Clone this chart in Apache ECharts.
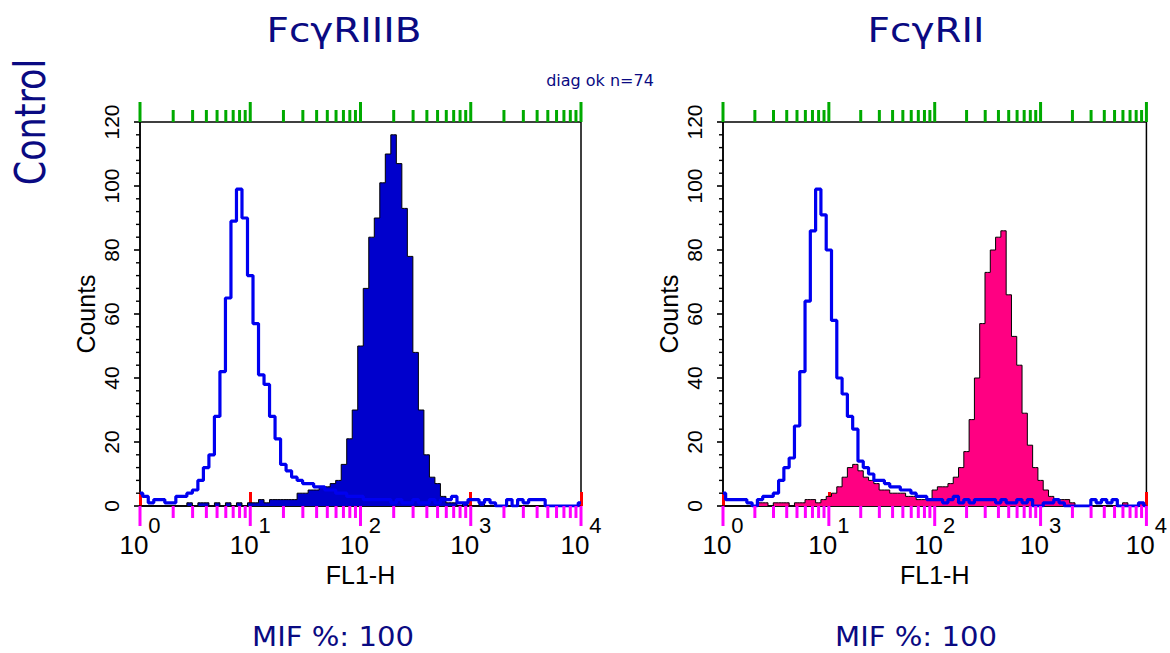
<!DOCTYPE html>
<html>
<head>
<meta charset="utf-8">
<script src="https://cdn.jsdelivr.net/npm/echarts@6/dist/echarts.min.js"></script>
<style>
html,body{margin:0;padding:0;background:#fff;}
#chart{width:1170px;height:653px;}
</style>
</head>
<body>
<div id="chart"></div>
<script>
const panelTitles = ['FcγRIIIB', 'FcγRII'];
const rowLabel = 'Control';
const mifLabels = ['MIF %: 100', 'MIF %: 100'];
const xAxisName = 'FL1-H';
const yAxisName = 'Counts';

const xRange = [1, 10000];
const xMajorTicks = [1, 10, 100, 1000, 10000];
const xMinorMultipliers = [2, 3, 4, 5, 6, 7, 8, 9];
const yRange = [0, 120];
const yInterval = 20;
const yMinorStep = 4;
const STEPS_PER_DECADE = 20;

const controlA = [
  4,3,1,2,2,1,1,3,3,4,
  5,8,12,16,28,42,65,89,99,90,
  72,57,41,38,28,21,13,11,9,8,
  7,7,6,6,5,5,4,4,3,3,
  3,2,2,2,2,2,1,2,1,1,
  2,1,1,2,1,2,2,3,1,1,
  2,2,1,2,1,0,0,2,0,2,
  1,2,2,2,0,0,0,0,0,0,
  1
];
const stainA = [
  0,0,0,0,0,0,0,0,0,1,
  0,1,1,0,1,0,1,0,1,0,
  1,1,2,1,2,2,2,2,2,4,
  4,5,5,6,6,7,8,13,21,30,
  50,68,84,90,101,110,116,107,93,78,
  48,30,16,9,7,3,1,1,0,1,
  0,0,1,0,0,0,0,0,0,0,
  0,0,0,0,0,0,0,0,0,0,
  0
];
const controlB = [
  4,2,2,2,2,1,0,2,3,3,
  4,8,12,15,25,42,64,86,99,91,
  80,58,40,35,28,24,14,12,10,8,
  8,7,6,6,5,5,4,3,3,2,
  2,2,1,2,3,1,2,1,2,2,
  2,2,1,2,1,1,2,1,2,0,
  0,1,1,2,1,0,0,0,0,0,
  2,1,2,1,2,0,0,0,0,1,
  0
];
const stainB = [
  0,0,0,0,0,0,0,1,1,0,
  1,1,1,0,1,1,2,2,1,2,
  3,4,6,9,12,13,11,9,8,7,
  5,5,4,4,4,3,3,2,2,2,
  5,6,6,7,9,12,17,27,40,57,
  73,80,84,86,66,53,44,29,19,12,
  8,5,3,2,2,2,1,0,0,0,
  0,0,0,0,0,0,1,0,0,1,
  0
];

const NAVY = '#0a0a82';
const CONTROL_BLUE = '#0000f0';
const fills = ['#0000cc', '#ff0082'];

function toPoints(counts) {
  return counts.map((c, i) => [Math.pow(10, i / STEPS_PER_DECADE), c]);
}
const xMinorTicks = [];
xMajorTicks.slice(0, -1).forEach(d => xMinorMultipliers.forEach(k => xMinorTicks.push(k * d)));
const yMajorTicks = [], yMinorTicks = [];
for (let v = yRange[0]; v <= yRange[1]; v += yMinorStep) {
  (v % yInterval === 0 ? yMajorTicks : yMinorTicks).push(v);
}

const grids = [
  { left: 140, top: 122, width: 441, height: 384 },
  { left: 723, top: 122, width: 432, height: 384 }
];

const tickFont = "'Liberation Sans Narrow', 'Liberation Sans', Arial, sans-serif";
const plainFont = "'Liberation Sans', Arial, sans-serif";

function makeX(i) {
  return {
    gridIndex: i, type: 'log', logBase: 10, min: xRange[0], max: xRange[1],
    axisLine: { show: true, onZero: false, lineStyle: { color: '#000', width: 1.5 } },
    axisTick: { show: true, inside: true, length: 14, lineStyle: { color: '#ff0000', width: 3 } },
    splitLine: { show: false },
    axisLabel: {
      margin: 8, color: '#000', showMinLabel: true, showMaxLabel: true,
      formatter: v => '{b|10}{e|' + Math.round(Math.log10(v)) + '}',
      rich: {
        b: { fontFamily: tickFont, fontSize: 26, lineHeight: 44, verticalAlign: 'bottom', color: '#000' },
        e: { fontFamily: tickFont, fontSize: 22, lineHeight: 12, verticalAlign: 'top', color: '#000' }
      }
    },
    name: xAxisName, nameLocation: 'middle', nameGap: 55,
    nameTextStyle: { fontFamily: tickFont, fontSize: 25, color: '#000' }
  };
}
function makeY(i) {
  return {
    gridIndex: i, type: 'value', min: yRange[0], max: yRange[1], interval: yInterval,
    axisLine: { show: true, onZero: false, lineStyle: { color: '#000', width: 1.5 } },
    axisTick: { show: false },
    splitLine: { show: false },
    axisLabel: { rotate: 90, margin: 18, fontFamily: plainFont, fontSize: 21, color: '#000' },
    name: yAxisName, nameLocation: 'middle', nameRotate: 90, nameGap: 42,
    nameTextStyle: { fontFamily: plainFont, fontSize: 25, color: '#000' }
  };
}

function yTickSeries(i, values, len, width) {
  return {
    type: 'custom', xAxisIndex: i, yAxisIndex: i, clip: false, silent: true, z: 6,
    data: values.map(v => [xRange[0], v]),
    renderItem: (params, api) => {
      const p = api.coord([xRange[0], values[params.dataIndex]]);
      return { type: 'rect', shape: { x: p[0] - len, y: p[1] - width / 2, width: len, height: width }, style: { fill: '#000' } };
    }
  };
}
// diagnostic: x ticks via custom series, drawn at top of grid in green
function xTickSeries(i, values, len, width) {
  return {
    type: 'custom', xAxisIndex: i, yAxisIndex: i, clip: false, silent: true, z: 6,
    data: values.map(v => [v, yRange[1]]),
    renderItem: (params, api) => {
      const p = api.coord([values[params.dataIndex], yRange[1]]);
      return { type: 'rect', shape: { x: p[0] - width / 2, y: p[1] - len, width: width, height: len }, style: { fill: '#00aa00' } };
    }
  };
}

const panels = [[controlA, stainA], [controlB, stainB]];
const series = [];
panels.forEach(([ctrl, stain], i) => {
  series.push({
    type: 'line', xAxisIndex: i, yAxisIndex: i, step: 'middle', symbol: 'none',
    data: toPoints(stain), z: 2,
    lineStyle: { color: '#000', width: 1 },
    areaStyle: { color: fills[i], opacity: 1 }
  });
  series.push({
    type: 'line', xAxisIndex: i, yAxisIndex: i, step: 'middle', symbol: 'none',
    data: toPoints(ctrl), z: 3,
    lineStyle: { color: CONTROL_BLUE, width: 3.2 }
  });
  series.push(yTickSeries(i, yMajorTicks, 6, 1.6));
  series.push(yTickSeries(i, yMinorTicks, 4, 1.4));
  series.push(xTickSeries(i, xMajorTicks, 20, 3));
  series.push(xTickSeries(i, xMinorTicks, 12, 3));
});

function txt(x, y, text, size, opts) {
  return Object.assign({
    type: 'text', x: x, y: y,
    style: {
      text: text, fill: NAVY, fontFamily: 'DejaVu Sans', fontSize: size,
      font: size + 'px "DejaVu Sans"',
      align: 'center', verticalAlign: 'middle',
      textAlign: 'center', textVerticalAlign: 'middle'
    }
  }, opts || {});
}
const textGraphics = [
  txt(344, 31, panelTitles[0], 33, { scaleX: 1.18 }),
  txt(926, 31, panelTitles[1], 33, { scaleX: 1.18 }),
  txt(333, 637, mifLabels[0], 26, { scaleX: 1.12 }),
  txt(916, 637, mifLabels[1], 26, { scaleX: 1.12 }),
  txt(30, 122, rowLabel, 35, { rotation: Math.PI / 2, scaleY: 1.2 })
];

const chart = echarts.init(document.getElementById('chart'), null, { renderer: 'svg' });
chart.setOption({
  animation: false,
  backgroundColor: '#fff',
  grid: grids.map(g => Object.assign({ show: true, borderColor: '#000', borderWidth: 1.5, backgroundColor: 'transparent' }, g)),
  xAxis: [makeX(0), makeX(1)],
  yAxis: [makeY(0), makeY(1)],
  series: series,
  graphic: textGraphics
});

// diagnostic: graphic ticks in magenta, drawn below axis
let diag = 'ok';
try {
  const tickGraphics = [];
  [0, 1].forEach(i => {
    [[xMajorTicks, 20, 3], [xMinorTicks, 12, 3]].forEach(([vals, len, w]) => {
      vals.forEach(v => {
        const p = chart.convertToPixel({ gridIndex: i }, [v, yRange[0]]);
        if (!p || !isFinite(p[0]) || !isFinite(p[1])) { diag = 'bad:' + JSON.stringify(p); return; }
        tickGraphics.push({
          type: 'rect', silent: true, z: 100,
          shape: { x: p[0] - w / 2, y: p[1], width: w, height: len },
          style: { fill: '#ff00ff' }
        });
      });
    });
  });
  chart.setOption({ graphic: textGraphics.concat(tickGraphics).concat([txt(600, 80, 'diag ' + diag + ' n=' + tickGraphics.length, 16)]) }, { replaceMerge: ['graphic'] });
} catch (e) {
  chart.setOption({ graphic: textGraphics.concat([txt(600, 80, 'ERR ' + e.message, 16)]) }, { replaceMerge: ['graphic'] });
}
</script>
</body>
</html>
